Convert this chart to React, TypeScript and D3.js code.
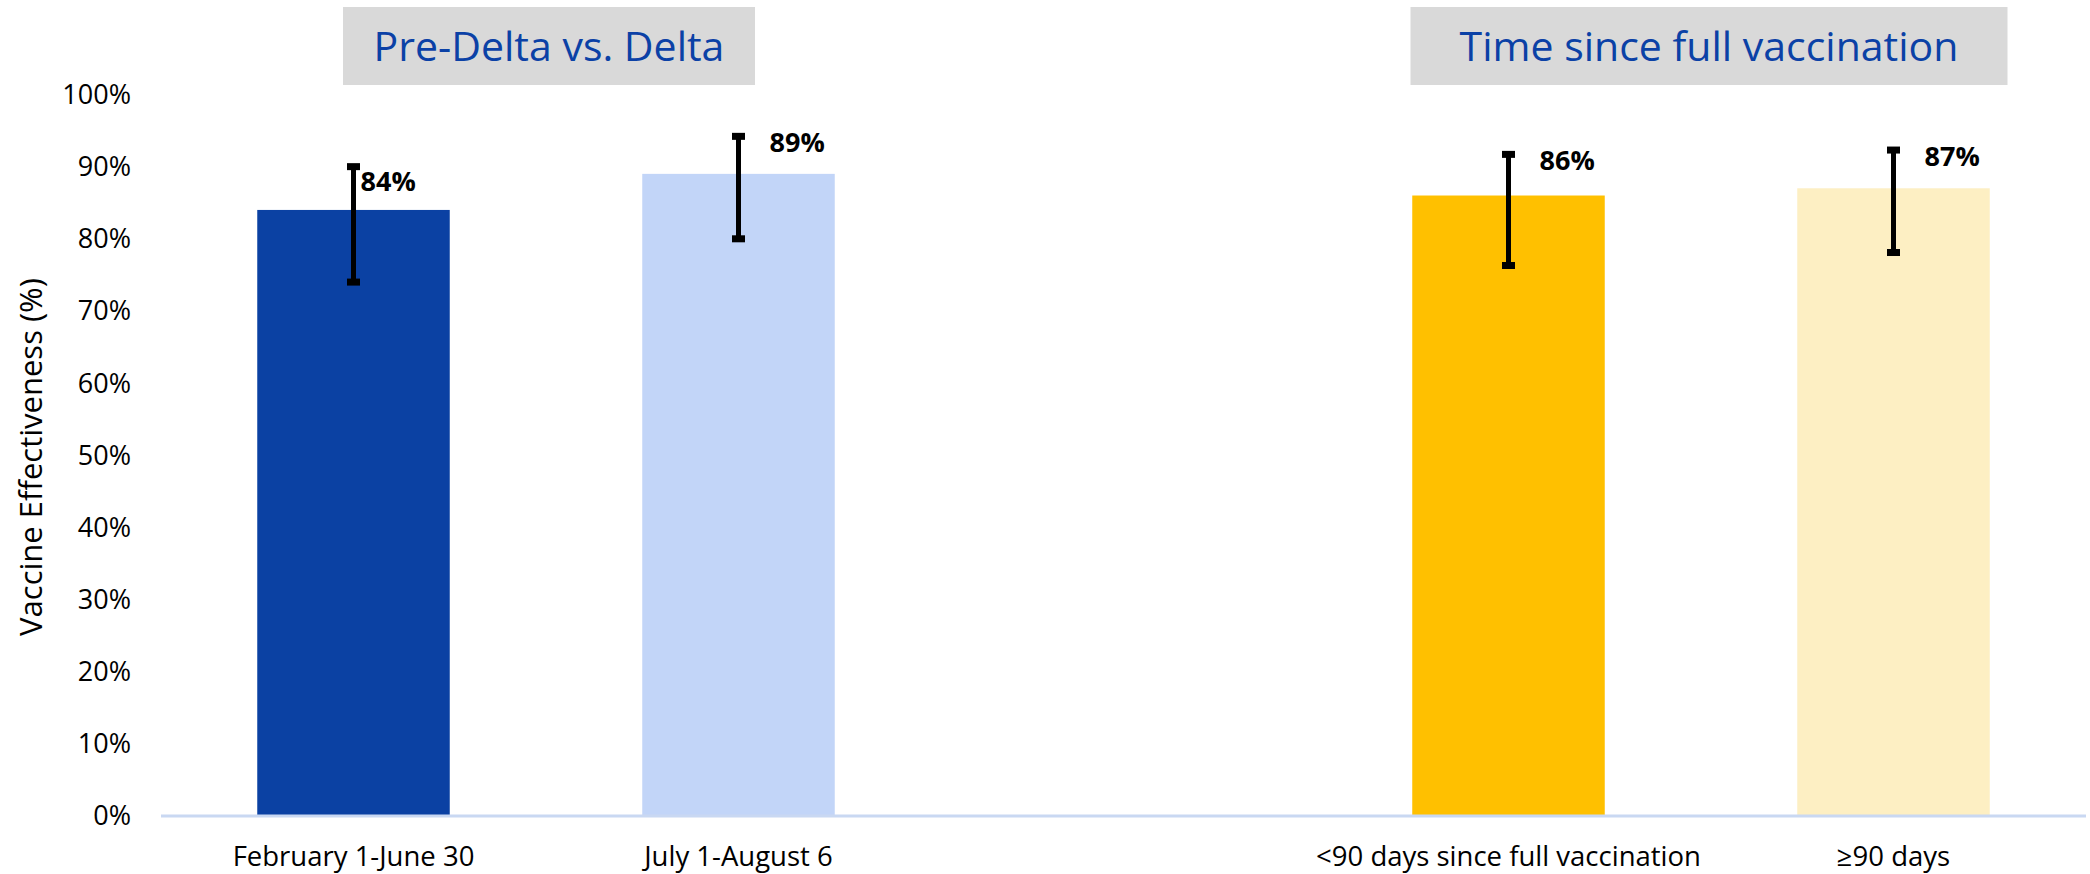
import React from "react";
import * as d3 from "d3";

// ---- data ----
const categories = ["February 1-June 30", "July 1-August 6", "<90 days since full vaccination", "≥90 days"];
const values = [84, 89, 86, 87];
const ciLow = [74, 80, 76.3, 78.1];
const ciHigh = [90, 94.2, 91.7, 92.3];
const barColors = ["#0B41A3", "#C2D5F8", "#FFC000", "#FDEFC3"];
const groupTitles = ["Pre-Delta vs. Delta", "Time since full vaccination"];
const groupMembers = [[0, 1], [2, 3]];
const yTicks = [0, 10, 20, 30, 40, 50, 60, 70, 80, 90, 100];
const yTitle = "Vaccine Effectiveness (%)";

// ---- layout ----
const W = 2090;
const H = 874;
const plotLeft = 161;
const plotRight = 2086;
const baseY = 816;
const topY = 94.5;
const FONT = "'Open Sans', 'Noto Sans', sans-serif";
const GAP = "__gap__";
const boxWidths = [412, 597];
const boxOffsets = [3, 8];
const labelNudge: Record<number, [number, number]> = { 0: [-24, 8] };

export default function App() {
  const domain = [categories[0], categories[1], GAP, categories[2], categories[3]];
  const x = d3.scaleBand<string>().domain(domain).range([plotLeft, plotRight]).paddingInner(0.5).paddingOuter(0.25);
  const y = d3.scaleLinear().domain([0, 100]).range([baseY, topY]);
  const bw = x.bandwidth();
  const cx = (c: string) => (x(c) as number) + bw / 2;

  return (
    <svg width={W} height={H} style={{ position: "absolute", left: 0, top: 0, background: "#fff" }} fontFamily={FONT}>
      {/* group titles */}
      {groupTitles.map((t, g) => {
        const [a, b] = groupMembers[g];
        const c = (cx(categories[a]) + cx(categories[b])) / 2 + boxOffsets[g];
        return (
          <g key={t}>
            <rect x={c - boxWidths[g] / 2} y={7} width={boxWidths[g]} height={78} fill="#D9D9D9" />
            <text x={c} y={61} textAnchor="middle" fontSize={41} fill="#0B41A6">{t}</text>
          </g>
        );
      })}

      {/* y tick labels */}
      {yTicks.map((t) => (
        <text key={t} x={131} y={y(t)} dy="0.35em" textAnchor="end" fontSize={27} fill="#000">{`${t}%`}</text>
      ))}

      {/* y title */}
      <text transform={`translate(42, 457) rotate(-90)`} textAnchor="middle" fontSize={31} fill="#000">{yTitle}</text>

      {/* bars */}
      {categories.map((c, i) => (
        <rect key={c} x={x(c)} y={y(values[i])} width={bw} height={baseY - y(values[i])} fill={barColors[i]} />
      ))}

      {/* x axis line */}
      <line x1={plotLeft} x2={plotRight} y1={baseY} y2={baseY} stroke="#C9D8F2" strokeWidth={3} />

      {/* error bars */}
      {categories.map((c, i) => {
        const xc = cx(c);
        return (
          <g key={"e" + c}>
            <line x1={xc} x2={xc} y1={y(ciHigh[i])} y2={y(ciLow[i])} stroke="#000" strokeWidth={5} />
            <rect x={xc - 6.5} y={y(ciHigh[i]) - 3.5} width={13} height={7} fill="#000" />
            <rect x={xc - 6.5} y={y(ciLow[i]) - 3.5} width={13} height={7} fill="#000" />
          </g>
        );
      })}

      {/* value labels */}
      {categories.map((c, i) => {
        const [ndx, ndy] = labelNudge[i] || [0, 0];
        return (
          <text key={"l" + c} x={cx(c) + 31 + ndx} y={y(ciHigh[i]) + 16 + ndy} fontSize={27} fontWeight="bold" fill="#000">
            {`${values[i]}%`}
          </text>
        );
      })}

      {/* category labels */}
      {categories.map((c) => (
        <text key={"c" + c} x={cx(c)} y={866} textAnchor="middle" fontSize={27.5} fill="#000">{c}</text>
      ))}
    </svg>
  );
}
